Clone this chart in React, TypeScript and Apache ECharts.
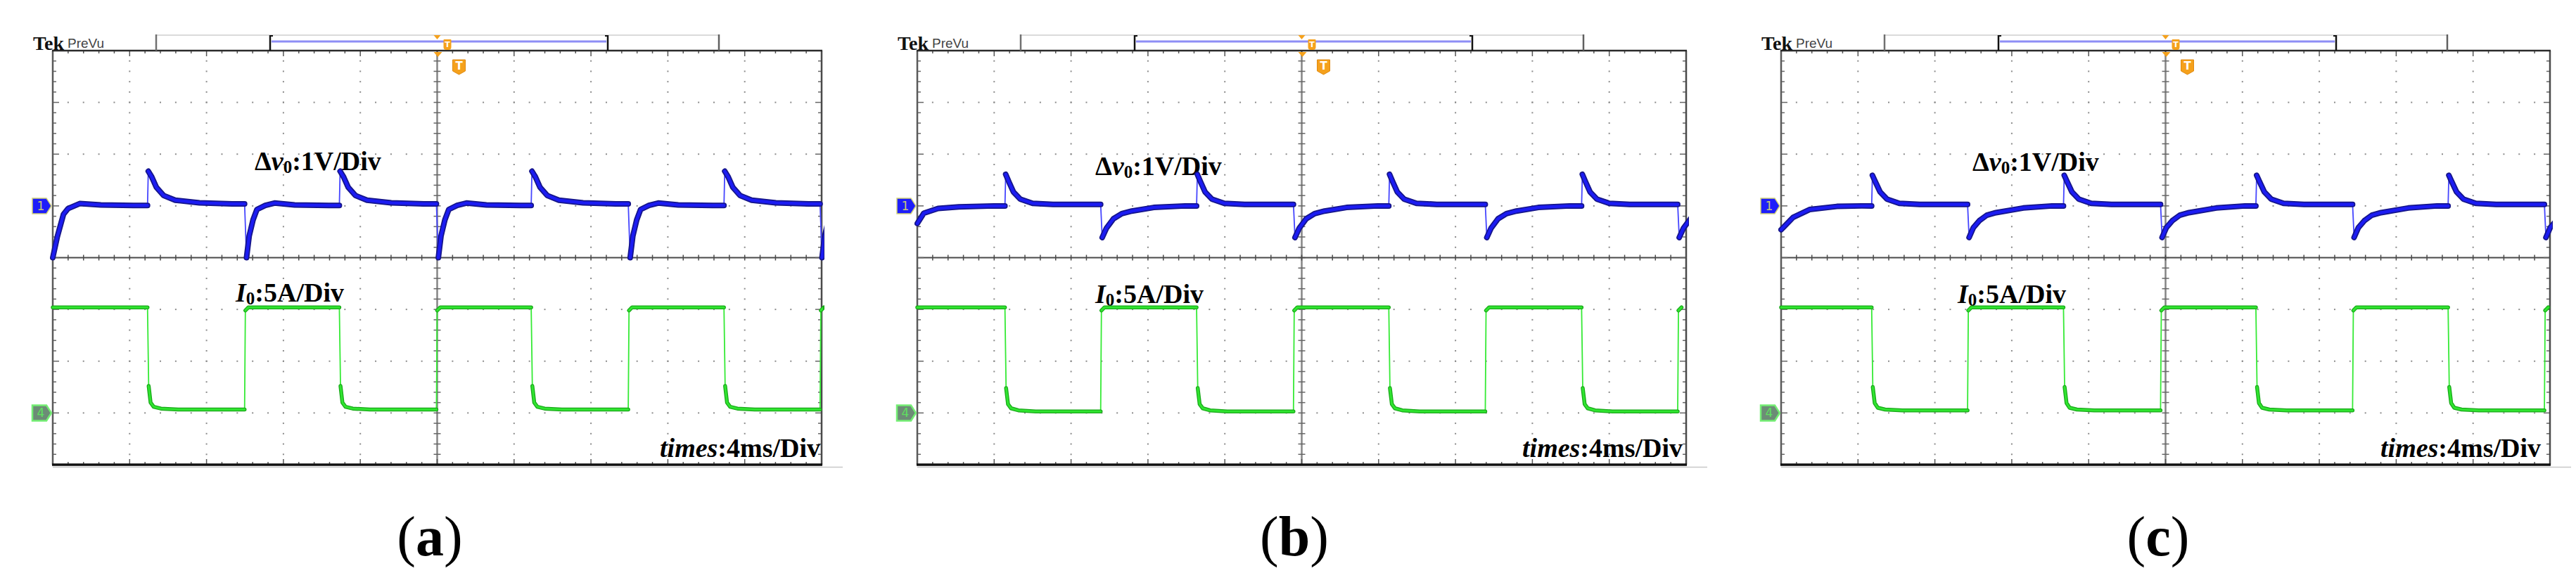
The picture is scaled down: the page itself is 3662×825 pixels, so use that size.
import React, { useEffect, useRef } from "react";
import * as echarts from "echarts";

// ---------------- data ----------------
// time axis: 4 ms/div, 10 divisions
const timeRangeMs = [0, 40];
const timeIntervalMs = 4;
// channel 1 (Δv0): 1 V/div, ground marker 3 div below the top edge
const ch1RangeV = [-5, 3];
const ch1IntervalV = 1;
// channel 4 (I0): 5 A/div, ground marker 7 div below the top edge
const ch4RangeA = [-5, 35];
const ch4IntervalA = 5;

const panelNames = ["a", "b", "c"];

// instants (ms) where the load is removed (I0 falls, Δv0 overshoots)
const aLoadOffMs = [4.93, 14.91, 24.89, 34.92];
const bLoadOffMs = [4.56, 14.53, 24.53, 34.56];
const cLoadOffMs = [4.71, 14.69, 24.7, 34.7];
// instants (ms) where the load is applied (I0 rises, Δv0 dips)
const aLoadOnMs = [9.98, 19.96, 29.94, 39.92];
const bLoadOnMs = [9.54, 19.57, 29.55, 39.56];
const cLoadOnMs = [9.7, 19.74, 29.73, 39.71];

// Δv0 (V) at the left edge of each screen: [t ms, V]
const aBlueStart = [[0, -1.0], [0.24, -0.59], [0.56, -0.16], [0.8, -0.05], [1.4, 0.045], [2.5, 0.02], [4.2, 0.01]];
const bBlueStart = [[0, -0.34], [0.34, -0.14], [1.08, -0.05], [2.16, -0.02], [4.0, 0.0]];
const cBlueStart = [[0, -0.46], [0.63, -0.22], [1.48, -0.07], [2.9, -0.01], [4.2, 0.0]];
// Δv0 response after a load removal: [ms after the step, V]
const aBlueAfterOff = [[0, 0.01], [0.04, 0.67], [0.22, 0.56], [0.46, 0.36], [0.84, 0.2], [1.44, 0.11], [2.7, 0.06], [4.4, 0.04]];
const bBlueAfterOff = [[0, 0.0], [0.04, 0.61], [0.2, 0.47], [0.44, 0.27], [0.8, 0.13], [1.44, 0.05], [2.5, 0.03], [4.4, 0.03]];
const cBlueAfterOff = [[0, 0.0], [0.04, 0.59], [0.2, 0.46], [0.44, 0.27], [0.8, 0.13], [1.44, 0.05], [2.5, 0.03], [4.4, 0.03]];
// Δv0 response after a load application: [ms after the step, V]
const aBlueAfterOn = [[0, 0.04], [0.1, -1.0], [0.24, -0.58], [0.44, -0.27], [0.64, -0.07], [1.08, 0.01], [1.56, 0.055], [2.6, 0.02], [4.4, 0.01]];
const bBlueAfterOn = [[0, 0.03], [0.08, -0.61], [0.3, -0.43], [0.66, -0.25], [1.1, -0.15], [1.62, -0.1], [2.76, -0.03], [4.4, 0.0]];
const cBlueAfterOn = [[0, 0.03], [0.08, -0.61], [0.3, -0.42], [0.63, -0.28], [1.0, -0.18], [1.48, -0.13], [2.9, -0.04], [4.4, 0.0]];

// I0 (A) at the left edge
const aGreenStart = [[0, 10.2]];
const bGreenStart = [[0, 10.2]];
const cGreenStart = [[0, 10.2]];
// I0 after a load removal: [ms, A]
const aGreenAfterOff = [[0, 10.2], [0.06, 2.6], [0.16, 1.0], [0.32, 0.6], [0.7, 0.42], [1.6, 0.33]];
const bGreenAfterOff = [[0, 10.2], [0.06, 2.4], [0.16, 0.85], [0.32, 0.45], [0.7, 0.25], [1.6, 0.15]];
const cGreenAfterOff = [[0, 10.2], [0.06, 2.5], [0.16, 0.95], [0.32, 0.5], [0.7, 0.33], [1.6, 0.25]];
// I0 after a load application: [ms, A]
const aGreenAfterOn = [[0, 0.33], [0.04, 9.9], [0.2, 10.2]];
const bGreenAfterOn = [[0, 0.15], [0.04, 9.9], [0.2, 10.2]];
const cGreenAfterOn = [[0, 0.25], [0.04, 9.9], [0.2, 10.2]];

// ---------------- layout (pixels) ----------------
const PAGE_W = 3662;
const PAGE_H = 825;
const PANEL_TOP = 72;
const PANEL_W = 1093;
const PANEL_H = 589;
const LAYOUT = [
  { left: 75, dv: [287, 242], cur: [260, 429], time: [1091, 650] },
  { left: 1304, dv: [253, 249], cur: [253, 431], time: [1088, 650] },
  { left: 2532, dv: [272, 243], cur: [251, 431], time: [1080, 650] },
];

const PANELS = [
  { name: panelNames[0], off: aLoadOffMs, on: aLoadOnMs, bStart: aBlueStart, bOff: aBlueAfterOff, bOn: aBlueAfterOn, gStart: aGreenStart, gOff: aGreenAfterOff, gOn: aGreenAfterOn },
  { name: panelNames[1], off: bLoadOffMs, on: bLoadOnMs, bStart: bBlueStart, bOff: bBlueAfterOff, bOn: bBlueAfterOn, gStart: bGreenStart, gOff: bGreenAfterOff, gOn: bGreenAfterOn },
  { name: panelNames[2], off: cLoadOffMs, on: cLoadOnMs, bStart: cBlueStart, bOff: cBlueAfterOff, bOn: cBlueAfterOn, gStart: cGreenStart, gOff: cGreenAfterOff, gOn: cGreenAfterOn },
];

const SERIF = "'Liberation Serif', 'Times New Roman', serif";
const ORANGE = "#f5a11c";

// place the read step responses at the read step instants
function buildTrace(start: number[][], offMs: number[], onMs: number[], afterOff: number[][], afterOn: number[][]) {
  const events: [number, number[][]][] = [
    ...offMs.map((t) => [t, afterOff] as [number, number[][]]),
    ...onMs.map((t) => [t, afterOn] as [number, number[][]]),
  ].sort((p, q) => p[0] - q[0]);
  const full: any[] = start.map((p) => [p[0], p[1]]);
  const band: any[] = start.map((p) => [p[0], p[1]]);
  const trim = (arr: any[], t: number) => {
    while (arr.length && arr[arr.length - 1][0] >= t) arr.pop();
  };
  events.forEach(([t, tpl], i) => {
    const next = i + 1 < events.length ? events[i + 1][0] : Infinity;
    trim(full, t);
    trim(band, t);
    tpl.forEach(([dt, v], k) => {
      const x = t + dt;
      if (x >= next) return;
      full.push([x, v]);
      if (k === 1) band.push([t + dt / 2, "-"]);
      band.push([x, v]);
    });
  });
  return { full, band };
}

function richText(x: number, baseline: number, text: string, align: string) {
  const base = { fontFamily: SERIF, fontWeight: "bold", fontSize: 38, lineHeight: 42, fill: "#000", color: "#000" };
  return {
    type: "text",
    style: {
      x,
      y: baseline - 34,
      text,
      align,
      textAlign: align,
      verticalAlign: "top",
      textVerticalAlign: "top",
      rich: {
        n: base,
        i: { ...base, fontStyle: "italic" },
        s: { ...base, fontSize: 25, lineHeight: 22, verticalAlign: "bottom" },
      },
    },
  };
}

function makeFrame(lay: any, name: string) {
  return (params: any) => {
    const cs = params.coordSys;
    const x0 = cs.x, y0 = cs.y, w = cs.width, h = cs.height;
    const el: any[] = [];
    const line = (x1: number, y1: number, x2: number, y2: number, stroke: string, lw: number) =>
      el.push({ type: "line", shape: { x1, y1, x2, y2 }, style: { stroke, lineWidth: lw } });
    const mx = w / 50, my = h / 40;
    // dotted graticule
    for (let i = 1; i < 10; i++) {
      if (i === 5) continue;
      const x = x0 + (i * w) / 10;
      for (let j = 1; j < 40; j++)
        el.push({ type: "rect", shape: { x: x - 1, y: y0 + j * my - 1, width: 2, height: 2 }, style: { fill: "#8c8c8c" } });
    }
    for (let k = 1; k < 8; k++) {
      if (k === 4) continue;
      const y = y0 + (k * h) / 8;
      for (let j = 1; j < 50; j++)
        el.push({ type: "rect", shape: { x: x0 + j * mx - 1, y: y - 1, width: 2, height: 2 }, style: { fill: "#8c8c8c" } });
    }
    // centre cross with minor ticks
    const cx = x0 + w / 2, cy = y0 + h / 2;
    line(cx, y0, cx, y0 + h, "#858585", 2.5);
    for (let j = 1; j < 40; j++) line(cx - 5, y0 + j * my, cx + 5, y0 + j * my, "#666", 1.5);
    line(x0, cy, x0 + w, cy, "#4a4a4a", 2);
    for (let j = 1; j < 50; j++) line(x0 + j * mx, cy - 4, x0 + j * mx, cy + 4, "#4a4a4a", 1.5);
    // border ticks
    for (let j = 1; j < 40; j++) {
      const L = j % 5 === 0 ? 9 : 5;
      const y = y0 + j * my;
      line(x0, y, x0 + L, y, "#666", 1.5);
      line(x0 + w - L, y, x0 + w, y, "#666", 1.5);
    }
    for (let j = 1; j < 50; j++) {
      const L = j % 5 === 0 ? 8 : 4;
      const x = x0 + j * mx;
      line(x, y0, x, y0 + L, "#555", 1.5);
      line(x, y0 + h - L, x, y0 + h, "#555", 1.5);
    }
    // borders
    line(x0, y0, x0, y0 + h, "#5a5a5a", 2.5);
    line(x0 + w, y0, x0 + w, y0 + h, "#4a4a4a", 2.5);
    line(x0 - 1, y0, x0 + w + 1, y0, "#2a2a2a", 2.5);
    line(x0 - 1, y0 + h, x0 + w + 1, y0 + h, "#111", 3.5);
    line(x0, y0 + h + 3.5, x0 + w + 30, y0 + h + 3.5, "#c8c8c8", 1.5);

    // record bar above the screen
    line(x0 + 147, 50, x0 + 947, 50, "#cfcfcf", 1.5);
    line(x0 + 147, 49, x0 + 147, y0, "#707070", 2.5);
    line(x0 + 947, 49, x0 + 947, y0, "#606060", 2.5);
    line(x0 + 311, 59, x0 + 787, 59, "#8e8ef5", 3);
    line(x0 + 309, 50, x0 + 309, y0, "#111", 2.5);
    line(x0 + 309, 51, x0 + 313, 51, "#111", 2);
    line(x0 + 789, 50, x0 + 789, y0, "#111", 2.5);
    line(x0 + 785, 51, x0 + 789, 51, "#111", 2);

    // trigger markers
    el.push({ type: "polygon", shape: { points: [[cx - 5, 50], [cx + 5, 50], [cx, 56]] }, style: { fill: ORANGE } });
    el.push({ type: "rect", shape: { x: cx + 9, y: 56, width: 11, height: 15, r: [1, 1, 4, 4] }, style: { fill: ORANGE } });
    el.push({ type: "text", style: { x: cx + 14.5, y: 63.5, text: "T", font: "bold 11px 'DejaVu Sans'", fill: "#fff", align: "center", verticalAlign: "middle", textAlign: "center", textVerticalAlign: "middle" } });
    el.push({ type: "polygon", shape: { points: [[cx - 5, y0 + 2], [cx + 7, y0 + 2], [cx + 1, y0 + 9]] }, style: { fill: ORANGE } });
    el.push({ type: "polygon", shape: { points: [[cx + 22, 85], [cx + 40, 85], [cx + 40, 101], [cx + 31, 106], [cx + 22, 101]] }, style: { fill: ORANGE, stroke: "#e08a10", lineWidth: 1 } });
    el.push({ type: "text", style: { x: cx + 31, y: 94, text: "T", font: "bold 15px 'DejaVu Sans'", fill: "#fff", align: "center", verticalAlign: "middle", textAlign: "center", textVerticalAlign: "middle" } });

    // channel ground markers
    const g1 = y0 + (3 * h) / 8;
    const g4 = y0 + (7 * h) / 8;
    const marker = (y: number) => [[x0 - 29, y - 11], [x0 - 9, y - 11], [x0 - 2, y], [x0 - 9, y + 11], [x0 - 29, y + 11]];
    el.push({ type: "polygon", shape: { points: marker(g1) }, style: { fill: "#1e1efa", stroke: "#d2d27a", lineWidth: 1.5 } });
    el.push({ type: "text", style: { x: x0 - 17, y: g1, text: "1", font: "17px 'DejaVu Sans'", fill: "#c8c878", align: "center", verticalAlign: "middle", textAlign: "center", textVerticalAlign: "middle" } });
    el.push({ type: "polygon", shape: { points: marker(g4) }, style: { fill: "#6c8c76", stroke: "#74ee74", lineWidth: 2.5 } });
    el.push({ type: "text", style: { x: x0 - 17, y: g4, text: "4", font: "17px 'DejaVu Sans'", fill: "#5ee05e", align: "center", verticalAlign: "middle", textAlign: "center", textVerticalAlign: "middle" } });

    // scope header
    el.push({ type: "text", style: { x: x0 - 28, y: 61, text: "Tek", font: `bold 28px ${SERIF}`, fill: "#111", align: "left", verticalAlign: "middle", textAlign: "left", textVerticalAlign: "middle" } });
    el.push({ type: "text", style: { x: x0 + 21, y: 61, text: "PreVu", font: "19px 'Liberation Sans'", fill: "#444", align: "left", verticalAlign: "middle", textAlign: "left", textVerticalAlign: "middle" } });

    // channel / timebase labels
    el.push(richText(x0 + lay.dv[0], lay.dv[1], "{n|Δ}{i|v}{s|0}{n|:1V/Div}", "left"));
    el.push(richText(x0 + lay.cur[0], lay.cur[1], "{i|I}{s|0}{n|:5A/Div}", "left"));
    el.push(richText(x0 + lay.time[0], lay.time[1], "{i|times}{n|:4ms/Div}", "right"));

    // sub-figure label
    el.push({
      type: "text",
      style: {
        x: x0 + 536,
        y: 763,
        text: `{p|(}{b|${name}}{p|)}`,
        align: "center",
        verticalAlign: "middle",
        textAlign: "center",
        textVerticalAlign: "middle",
        rich: {
          p: { fontFamily: SERIF, fontSize: 80, lineHeight: 90, fill: "#000", color: "#000" },
          b: { fontFamily: SERIF, fontSize: 80, lineHeight: 90, fontWeight: "bold", fill: "#000", color: "#000" },
        },
      },
    });
    return { type: "group", children: el };
  };
}

function lineSeries(xi: number, yi: number, data: any[], color: string, width: number, z: number) {
  return {
    type: "line",
    xAxisIndex: xi,
    yAxisIndex: yi,
    data,
    symbol: "none",
    showSymbol: false,
    connectNulls: false,
    clip: true,
    silent: true,
    z,
    lineStyle: { color, width, cap: "round", join: "round" },
  };
}

function buildOption() {
  const grid: any[] = [], xAxis: any[] = [], yAxis: any[] = [], series: any[] = [];
  PANELS.forEach((p, i) => {
    const lay = LAYOUT[i];
    grid.push({ left: lay.left, top: PANEL_TOP, width: PANEL_W, height: PANEL_H, show: false });
    xAxis.push({ type: "value", gridIndex: i, min: timeRangeMs[0], max: timeRangeMs[1], interval: timeIntervalMs, show: false });
    yAxis.push({ type: "value", gridIndex: i, min: ch1RangeV[0], max: ch1RangeV[1], interval: ch1IntervalV, show: false });
    yAxis.push({ type: "value", gridIndex: i, min: ch4RangeA[0], max: ch4RangeA[1], interval: ch4IntervalA, show: false });
    series.push({ type: "custom", xAxisIndex: i, yAxisIndex: 2 * i, data: [[0, 0]], renderItem: makeFrame(lay, p.name), z: 1, silent: true, clip: false });
    const blue = buildTrace(p.bStart, p.off, p.on, p.bOff, p.bOn);
    const green = buildTrace(p.gStart, p.on.map((t) => t).length ? p.off : p.off, p.on, p.gOff, p.gOn);
    series.push(lineSeries(i, 2 * i, blue.full, "#4646ff", 1.8, 2));
    series.push(lineSeries(i, 2 * i, blue.band, "#15158a", 8, 3));
    series.push(lineSeries(i, 2 * i, blue.band, "#1c1cf2", 4.5, 4));
    series.push(lineSeries(i, 2 * i + 1, green.full, "#35ea35", 1.8, 2));
    series.push(lineSeries(i, 2 * i + 1, green.band, "#18a818", 5.5, 3));
    series.push(lineSeries(i, 2 * i + 1, green.band, "#30e430", 3, 4));
  });
  return { animation: false, backgroundColor: "#ffffff", grid, xAxis, yAxis, series };
}

export default function App() {
  const ref = useRef<HTMLDivElement>(null);
  useEffect(() => {
    const chart = echarts.init(ref.current as HTMLDivElement, undefined, { renderer: "svg" });
    chart.setOption(buildOption() as any);
    return () => chart.dispose();
  }, []);
  return (
    <div
      ref={ref}
      style={{ position: "fixed", left: 0, top: 0, width: PAGE_W, height: PAGE_H, background: "#fff" }}
    />
  );
}
